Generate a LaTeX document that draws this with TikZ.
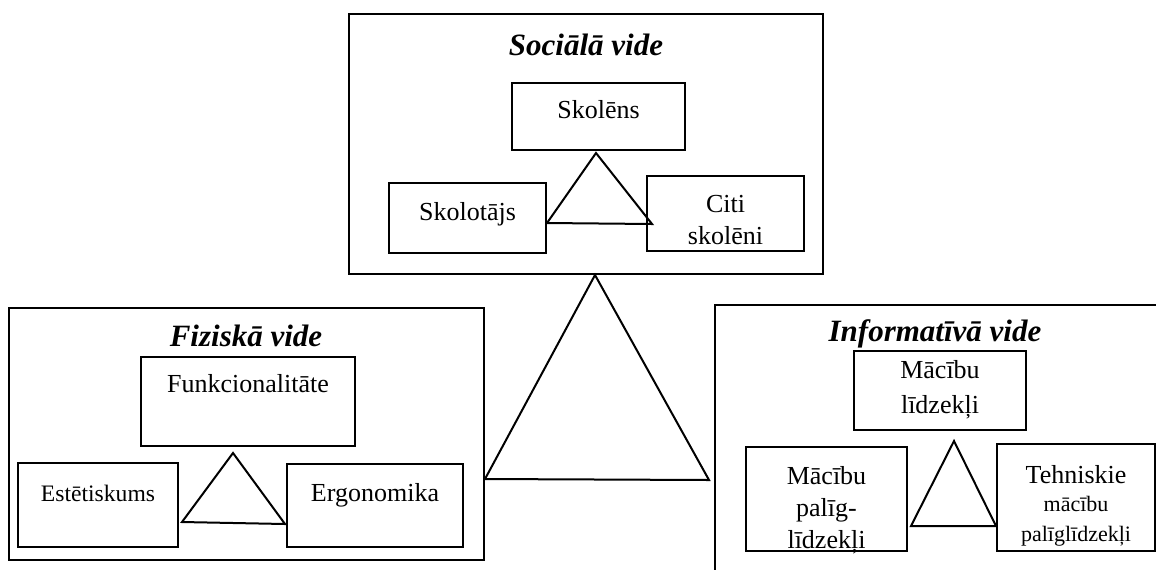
\documentclass[tikz,border=0pt]{standalone}
\usepackage{fontspec}
\setmainfont{Liberation Serif}
\usetikzlibrary{positioning}

\tikzset{
  vide/.style={draw, line width=1.2pt, inner sep=0pt},
  box/.style={draw, line width=1pt, inner sep=0pt},
  title/.style={font=\fontsize{15.5}{18}\selectfont\bfseries\itshape, inner sep=0pt},
  txt/.style={font=\fontsize{13}{16}\selectfont, align=center, inner sep=0pt},
  smalltxt/.style={font=\fontsize{11}{15}\selectfont, align=center, inner sep=0pt},
  link/.style={line width=1pt}
}

\begin{document}
\begin{tikzpicture}[x=0.5pt,y=-0.5pt]
\useasboundingbox (0,0) rectangle (1156,569);

% sociala vide
\node[vide, minimum width=237pt, minimum height=130pt] (soc) at (586,144) {};
\node[title] (soct) at (586,45) {Sociālā vide};
\node[box, minimum width=86.5pt, minimum height=33.5pt] (skolens) at (598.5,116.5) {};
\node[box, minimum width=78.5pt, minimum height=35pt] (skolotajs) at (467.5,218) {};
\node[box, minimum width=78.5pt, minimum height=37.5pt] (citi) at (725.5,213.5) {};
\node[txt] (skolenst) at (598.5,110) {Skolēns};
\node[txt] (skolotajst) at (467.5,214) {Skolotājs};
\node[txt] (citit) at (725.5,220) {Citi\\skolēni};

% fiziska vide
\node[vide, minimum width=237.5pt, minimum height=126pt] (fiz) at (246.5,434) {};
\node[title] (fizt) at (246,336) {Fiziskā vide};
\node[box, minimum width=107pt, minimum height=44.5pt] (funk) at (248,401.5) {};
\node[box, minimum width=80pt, minimum height=42pt] (estet) at (98,505) {};
\node[box, minimum width=88pt, minimum height=41.5pt] (ergo) at (375,505.5) {};
\node[txt] (funkt) at (248,384) {Funkcionalitāte};
\node[txt, font=\fontsize{11.8}{14}\selectfont] (estett) at (98,493) {Estētiskums};
\node[txt] (ergot) at (375,495) {Ergonomika};

% informativa vide
\node[vide, minimum width=292.5pt, minimum height=157.5pt] (inf) at (1007.5,462.5) {};
\node[title] (inft) at (935,334) {Informatīvā vide};
\node[box, minimum width=86pt, minimum height=39.5pt] (lidz) at (940,390.5) {};
\node[box, minimum width=80.5pt, minimum height=52pt] (palig) at (826.5,499) {};
\node[box, minimum width=79pt, minimum height=53.5pt] (tehn) at (1076,497.5) {};
\node[txt, font=\fontsize{13}{17.5}\selectfont] (lidzt) at (940,390) {Mācību\\līdzekļi};
\node[txt] (paligt) at (826.5,510) {Mācību\\palīg-\\līdzekļi};
\node[txt] (tehnt) at (1076,475) {Tehniskie};
\node[smalltxt] (tehnt2) at (1076,521) {mācību\\palīglīdzekļi};

% trijsturi
\coordinate (s1) at (596,153);
\coordinate (s2) at (547,223);
\coordinate (s3) at (652,224);
\draw[link] (s1)--(s2)--(s3)--cycle;

\coordinate (f1) at (233,453);
\coordinate (f2) at (182,522);
\coordinate (f3) at (285,524);
\draw[link] (f1)--(f2)--(f3)--cycle;

\coordinate (i1) at (954,441);
\coordinate (i2) at (911,526);
\coordinate (i3) at (996,526);
\draw[link] (i1)--(i2)--(i3)--cycle;

\coordinate (b1) at (595,275);
\coordinate (b2) at (485,479);
\coordinate (b3) at (709,480);
\draw[link] (b1)--(b2)--(b3)--cycle;
\end{tikzpicture}
\end{document}
